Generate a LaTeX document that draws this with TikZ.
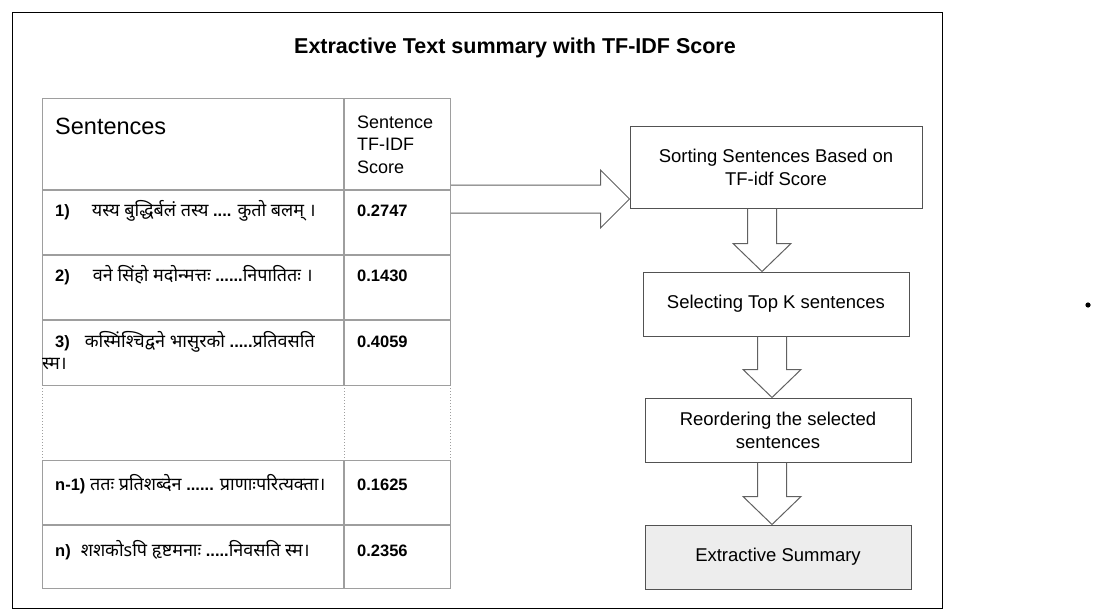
\documentclass[tikz,border=0pt]{standalone}
\usepackage{fontspec}
\setmainfont{Liberation Sans}
\newfontfamily\dev[Script=Devanagari,Scale=1.09]{Noto Sans}
\usetikzlibrary{calc}
\tikzset{
  tabline/.style={draw=black!38, line width=1.1pt},
  tabdot/.style={draw=black!38, line width=1pt, dotted},
  tabblock/.style={tabline, anchor=north west, inner sep=0pt, minimum width=408pt},
  box/.style={draw=black!68, line width=1pt, inner sep=0pt, align=center,
    minimum height=64pt, font=\fontsize{18.5}{23}\selectfont},
  blk/.style={draw=black!62, line width=1pt, line join=miter},
  rowtxt/.style={anchor=base west, inner sep=0pt, font=\fontsize{16.5}{20}\selectfont},
  scoretxt/.style={anchor=base west, inner sep=0pt, font=\fontsize{16.5}{20}\selectfont\bfseries},
}
\newcommand{\vblock}[3]{%
  \draw[blk] let \p1=(#2.south), \p2=(#3.north) in
    (#1pt-14.5pt,\y1) -- (#1pt-14.5pt,\y2+28pt) -- (#1pt-29pt,\y2+28pt) --
    (#1pt,\y2) -- (#1pt+29pt,\y2+28pt) -- (#1pt+14.5pt,\y2+28pt) -- (#1pt+14.5pt,\y1);}
\begin{document}
\begin{tikzpicture}[x=1pt,y=-1pt]
\useasboundingbox (0,0) rectangle (1094,613);
% outer frame
\node[draw=black, line width=1.2pt, anchor=north west, inner sep=0pt,
  minimum width=930pt, minimum height=596pt] (frame) at (12,12) {};
% title
\node[inner sep=0pt, font=\fontsize{21.5}{25}\selectfont\bfseries] (title) at (515,48)
  {Extractive Text summary with TF-IDF Score};
% table blocks
\node[tabblock, minimum height=287pt] (tabtop) at (42,98) {};
\node[tabblock, minimum height=128pt] (tabbot) at (42,460) {};
% inner grid
\draw[tabline] (344,98) -- (344,385);
\draw[tabline] (344,460) -- (344,588);
\draw[tabline] (42,190) -- (450,190);
\draw[tabline] (42,255) -- (450,255);
\draw[tabline] (42,320) -- (450,320);
\draw[tabline] (42,525) -- (450,525);
\draw[tabdot] (42,385) -- (42,460);
\draw[tabdot] (344,385) -- (344,460);
\draw[tabdot] (450,385) -- (450,460);
% header
\node[anchor=base west, inner sep=0pt, font=\fontsize{23.5}{28}\selectfont] (hsent) at (55,134) {Sentences};
\node[anchor=base west, inner sep=0pt, align=left, font=\fontsize{18}{22.5}\selectfont] (hscore) at (357,173)
  {Sentence\\TF-IDF\\Score};
% rows
\node[rowtxt] (r1) at (55,216) {\textbf{1)}\hspace{22pt}{\dev यस्य बुद्धिर्बलं तस्य} \textbf{....} {\dev कुतो बलम् ।}};
\node[scoretxt] (s1) at (357,216) {0.2747};
\node[rowtxt] (r2) at (55,281) {\textbf{2)}\hspace{23pt}{\dev वने सिंहो मदोन्मत्तः} \textbf{......}{\dev निपातितः ।}};
\node[scoretxt] (s2) at (357,281) {0.1430};
\node[rowtxt] (r3) at (55,347) {\textbf{3)}\hspace{15pt}{\dev कस्मिंश्चिद्वने भासुरको} \textbf{.....}{\dev प्रतिवसति}};
\node[rowtxt] (r3b) at (42,369) {{\dev स्म।}};
\node[scoretxt] (s3) at (357,347) {0.4059};
\node[rowtxt] (rn1) at (55,490) {\textbf{n-1)} {\dev ततः प्रतिशब्देन} \textbf{......} {\dev प्राणाःपरित्यक्ता।}};
\node[scoretxt] (sn1) at (357,490) {0.1625};
\node[rowtxt] (rn) at (55,556) {\textbf{n)}\hspace{10pt}{\dev शशकोsपि हृष्टमनाः} \textbf{.....}{\dev निवसति स्म।}};
\node[scoretxt] (sn) at (357,556) {0.2356};
% process boxes
\node[box, minimum width=292pt, minimum height=82pt] (b1) at (776,167) {Sorting Sentences Based on\\TF-idf Score};
\node[box, minimum width=266pt] (b2) at (776,304) {Selecting Top K sentences};
\node[box, minimum width=266pt] (b3) at (778,430) {Reordering the selected\\sentences};
\node[box, minimum width=266pt, fill=black!7] (b4) at (778,557) {Extractive Summary};
% big horizontal arrow
\coordinate (tip) at ($(b1.west)+(0,32)$);
\draw[blk] let \p1=(tabtop.east), \p2=(tip) in
  (\x1,\y2+14pt) -- (\x2-29pt,\y2+14pt) -- (\x2-29pt,\y2+29pt) -- (\x2,\y2) --
  (\x2-29pt,\y2-29pt) -- (\x2-29pt,\y2-14pt) -- (\x1,\y2-14pt);
% vertical block arrows
\vblock{762}{b1}{b2}
\vblock{772}{b2}{b3}
\vblock{772}{b3}{b4}
% stray dot
\fill (1088,305) circle (2.6);
\end{tikzpicture}
\end{document}
